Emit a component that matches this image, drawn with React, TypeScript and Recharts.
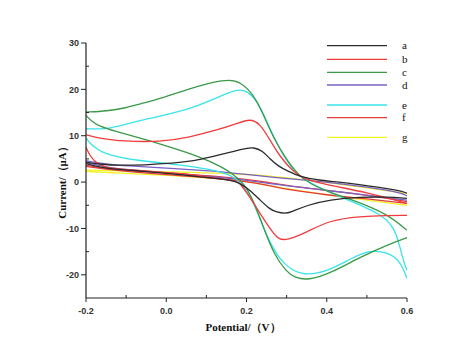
import { LineChart, Line, XAxis, YAxis } from 'recharts';

// potential (V) / current (µA) pairs; forward scan -0.2 -> 0.6 V, return scan 0.6 -> -0.2 V
const aForward = [
  [-0.2, 4.3], [-0.16, 3.8], [-0.12, 3.6], [-0.05, 3.7], [0.0, 4.0], [0.05, 4.4], [0.086, 4.9], [0.13, 5.8],
  [0.17, 6.7], [0.2, 7.3], [0.217, 7.5], [0.24, 6.8], [0.259, 4.9], [0.28, 3.4], [0.3, 2.5], [0.334, 1.1],
  [0.38, 0.4], [0.433, 0.0], [0.5, -0.8], [0.583, -1.8], [0.6, -2.4],
];
const aReturn = [
  [0.6, -3.5], [0.55, -3.2], [0.483, -3.2], [0.408, -3.8], [0.35, -5.0], [0.31, -6.5], [0.296, -6.8],
  [0.275, -6.5], [0.259, -5.9], [0.234, -3.9], [0.21, -1.8], [0.184, -0.3], [0.169, 0.4], [0.1, 1.0],
  [0.044, 1.5], [0.0, 1.9], [-0.08, 2.5], [-0.138, 2.8], [-0.17, 3.3], [-0.2, 4.0],
];
const bForward = [
  [-0.2, 10.2], [-0.165, 9.4], [-0.107, 8.8], [-0.015, 8.65], [0.059, 9.7], [0.126, 11.2], [0.176, 12.6],
  [0.209, 13.7], [0.234, 12.6], [0.259, 9.0], [0.284, 5.4], [0.317, 2.2], [0.342, 0.75], [0.4, -0.6],
  [0.5, -2.2], [0.6, -4.6],
];
const bReturn = [
  [0.6, -7.2], [0.55, -7.2], [0.483, -7.4], [0.408, -8.2], [0.35, -10.8], [0.3, -12.6], [0.28, -12.3],
  [0.267, -11.1], [0.234, -6.8], [0.21, -3.4], [0.184, -0.3], [0.177, 0.2], [0.1, 1.2], [0.044, 1.8],
  [-0.05, 2.4], [-0.12, 2.8], [-0.155, 3.2], [-0.175, 4.2], [-0.19, 5.6], [-0.2, 7.5],
];
const cForward = [
  [-0.2, 15.1], [-0.148, 15.3], [-0.1, 16.0], [-0.065, 16.9], [-0.015, 18.0], [0.059, 20.2], [0.117, 21.6],
  [0.159, 22.1], [0.184, 21.6], [0.216, 19.1], [0.241, 14.8], [0.266, 9.7], [0.3, 4.7], [0.334, 1.1],
  [0.36, -0.4], [0.4, -2.0], [0.466, -3.9], [0.55, -6.8], [0.6, -10.4],
];
const cReturn = [
  [0.6, -12.0], [0.55, -13.6], [0.483, -16.2], [0.408, -19.7], [0.354, -21.2], [0.32, -20.6], [0.3, -19.4],
  [0.267, -15.4], [0.242, -9.7], [0.217, -3.9], [0.194, -0.3], [0.165, 1.8], [0.14, 3.2], [0.086, 5.4],
  [0.0, 7.8], [-0.065, 9.5], [-0.13, 11.0], [-0.165, 12.0], [-0.185, 13.0], [-0.2, 14.4],
];
const dForward = [
  [-0.2, 4.6], [-0.15, 3.9], [-0.1, 3.5], [0.0, 3.0], [0.1, 2.5], [0.184, 1.8], [0.27, 1.0], [0.35, 0.4],
  [0.45, -0.5], [0.583, -2.1], [0.6, -3.0],
];
const dReturn = [
  [0.6, -3.9], [0.5, -2.8], [0.4, -1.8], [0.3, -0.8], [0.2, 0.4], [0.1, 1.3], [0.0, 2.0], [-0.1, 2.7],
  [-0.15, 3.2], [-0.2, 4.2],
];
const eForward = [
  [-0.2, 11.5], [-0.148, 11.4], [-0.1, 12.5], [-0.065, 13.3], [0.018, 14.8], [0.084, 16.6], [0.134, 18.5],
  [0.176, 20.0], [0.2, 19.8], [0.226, 17.6], [0.25, 13.3], [0.275, 8.3], [0.309, 3.3], [0.338, 0.75],
  [0.4, -2.0], [0.466, -4.3], [0.55, -7.5], [0.575, -11.1], [0.59, -16.9], [0.6, -19.0],
];
const eReturn = [
  [0.6, -20.8], [0.583, -16.9], [0.55, -15.1], [0.508, -14.7], [0.466, -16.2], [0.4, -19.4], [0.342, -20.1],
  [0.31, -18.8], [0.284, -16.9], [0.25, -11.8], [0.217, -3.9], [0.184, 0.0], [0.169, 1.1], [0.127, 2.5],
  [0.044, 3.6], [0.0, 4.0], [-0.08, 4.8], [-0.12, 5.4], [-0.155, 6.3], [-0.17, 7.0], [-0.19, 8.3], [-0.2, 9.5],
];
const fForward = [
  [-0.2, 3.6], [-0.15, 2.9], [-0.1, 2.5], [0.0, 2.0], [0.1, 1.4], [0.2, 0.6], [0.25, 0.0], [0.3, -0.8],
  [0.4, -1.8], [0.5, -2.8], [0.6, -4.2],
];
const fReturn = [
  [0.6, -4.6], [0.5, -3.6], [0.4, -2.8], [0.3, -1.6], [0.25, -0.6], [0.2, 0.1], [0.1, 1.0], [0.0, 1.6],
  [-0.1, 2.3], [-0.15, 2.8], [-0.2, 3.4],
];
const gForward = [[-0.2, 2.6], [0.0, 2.2], [0.21, 1.8], [0.35, 0.4], [0.45, -0.6], [0.6, -2.5]];
const gReturn = [
  [0.6, -5.0], [0.433, -3.2], [0.266, -1.0], [0.19, 0.4], [0.134, 0.75], [0.0, 1.5], [-0.1, 1.9], [-0.2, 2.3],
];

const seriesNames = ['a', 'b', 'c', 'd', 'e', 'f', 'g'];
const forwardScans = [aForward, bForward, cForward, dForward, eForward, fForward, gForward];
const returnScans = [aReturn, bReturn, cReturn, dReturn, eReturn, fReturn, gReturn];
const seriesColors = ['#2b2b2b', '#f03c3c', '#3a9a48', '#7b61c4', '#38e4ea', '#e43a3a', '#f2f226'];

const xTicks = [-0.2, -0.1, 0, 0.1, 0.2, 0.3, 0.4, 0.5, 0.6];
const xMajor = [-0.2, 0, 0.2, 0.4, 0.6];
const yTicks = [-20, -15, -10, -5, 0, 5, 10, 15, 20, 25, 30];
const yMajor = [-20, -10, 0, 10, 20, 30];

const legendRows = [37.7, 51.3, 64.3, 77, 97, 109.7, 129.3];

const tickFont = { fontFamily: '"Liberation Sans", Arial, sans-serif', fontSize: 9, fontWeight: 700, fill: '#333' };
const titleFont = { fontFamily: '"Liberation Serif", "Times New Roman", serif', fontSize: 11, fontWeight: 700, fill: '#111' };

const isIn = (list: number[], v: number) => list.some((m) => Math.abs(m - v) < 1e-6);

const XTick = ({ x, y, payload }: any) => {
  const major = isIn(xMajor, payload.value);
  return (
    <g>
      <line x1={x} x2={x} y1={y} y2={major ? y + 4 : y - 3} stroke="#222" strokeWidth={1} />
      {major && (
        <text x={x} y={y + 16} textAnchor="middle" {...tickFont}>
          {payload.value.toFixed(1)}
        </text>
      )}
    </g>
  );
};

const YTick = ({ x, y, payload }: any) => {
  const major = isIn(yMajor, payload.value);
  return (
    <g>
      <line x1={major ? x - 5 : x} x2={major ? x : x + 3} y1={y} y2={y} stroke="#222" strokeWidth={1} />
      {major && (
        <text x={x - 7} y={y + 3.3} textAnchor="end" {...tickFont}>
          {payload.value}
        </text>
      )}
    </g>
  );
};

const toRows = (pts: number[][]) => pts.map(([v, i]) => ({ v, i }));

const App = () => {
  const series = seriesNames.map((name, k) => ({
    name,
    color: seriesColors[k],
    branches: [toRows(forwardScans[k]), toRows(returnScans[k])],
  }));
  const drawOrder = [6, 5, 3, 4, 2, 1, 0];

  return (
    <div style={{ position: 'relative', width: 466, height: 350 }}>
      <LineChart width={466} height={350} margin={{ top: 35, right: 67, bottom: 30, left: 38 }}>
        <XAxis
          dataKey="v"
          type="number"
          domain={[-0.2, 0.6]}
          ticks={xTicks}
          interval={0}
          allowDataOverflow
          height={30}
          tickSize={0}
          tickMargin={0}
          tickLine={false}
          tick={<XTick />}
          axisLine={{ stroke: '#222', strokeWidth: 1.2 }}
          label={{
            content: () => (
              <text x={235} y={323} textAnchor="middle" {...titleFont}>
                Potential/（V）
              </text>
            ),
          }}
        />
        <YAxis
          type="number"
          domain={[-25, 30]}
          ticks={yTicks}
          interval={0}
          allowDataOverflow
          width={40}
          tickSize={0}
          tickMargin={0}
          tickLine={false}
          tick={<YTick />}
          axisLine={{ stroke: '#222', strokeWidth: 1.2 }}
          label={{
            content: () => (
              <text x={58} y={172} transform="rotate(-90 58 172)" textAnchor="middle" {...titleFont}>
                Current/（μA）
              </text>
            ),
          }}
        />
        {drawOrder.flatMap((k) =>
          series[k].branches.map((rows, b) => (
            <Line
              key={`${series[k].name}-${b}`}
              data={rows}
              dataKey="i"
              name={series[k].name}
              type="basis"
              stroke={series[k].color}
              strokeWidth={1.3}
              dot={false}
              activeDot={false}
              isAnimationActive={false}
            />
          ))
        )}
      </LineChart>
      <svg width={466} height={350} style={{ position: 'absolute', left: 0, top: 0, pointerEvents: 'none' }}>
        {series.map((s, k) => (
          <g key={s.name}>
            <line x1={319} x2={379} y1={legendRows[k]} y2={legendRows[k]} stroke={s.color} strokeWidth={1.3} />
            <text
              x={394}
              y={legendRows[k] + 3.5}
              fontFamily='"Liberation Serif", "Times New Roman", serif'
              fontSize={11}
              fill="#111"
            >
              {s.name}
            </text>
          </g>
        ))}
      </svg>
    </div>
  );
};

export default App;
